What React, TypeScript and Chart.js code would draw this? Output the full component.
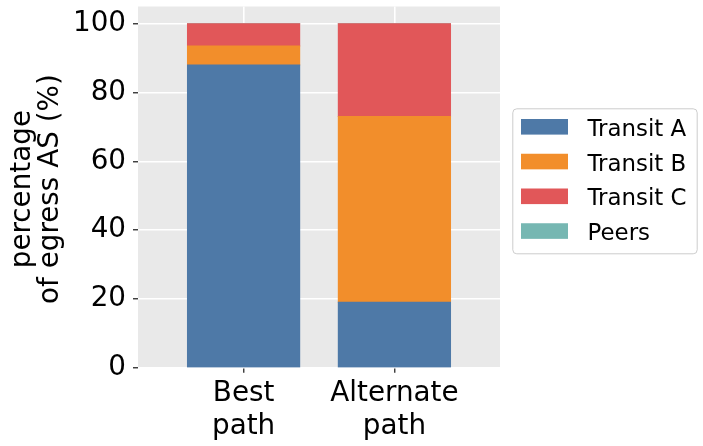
import React, { useEffect, useRef } from 'react';
import { Chart, registerables } from 'chart.js';

Chart.register(...registerables);

// ---- data ----
const categories: string[][] = [['Best', 'path'], ['Alternate', 'path']];
const categoryPositions = [0, 1];
const seriesNames = ['Transit A', 'Transit B', 'Transit C', 'Peers'];
const transitA = [88, 19];
const transitB = [5.5, 54];
const transitC = [6.5, 27];
const peers = [0, 0];
const yTicks = [0, 20, 40, 60, 80, 100];
const yTitle = ['percentage', 'of egress AS (%)'];

const seriesValues = [transitA, transitB, transitC, peers];
const colors = ['#4e79a7', '#f28e2b', '#e15759', '#76b7b2'];

const FAMILY = '"DejaVu Sans"';
const TICK_SIZE = 27.8;
const LEGEND_SIZE = 22.9;

const decorPlugin = {
  id: 'decor',
  beforeDraw(chart: any) {
    const { ctx, chartArea: a } = chart;
    ctx.save();
    ctx.fillStyle = '#e9e9e9';
    ctx.fillRect(a.left, a.top, a.right - a.left, a.bottom - a.top);
    ctx.restore();
  },
  afterDraw(chart: any) {
    const { ctx, chartArea: a } = chart;
    // y-axis title (two lines, rotated)
    ctx.save();
    ctx.fillStyle = '#000';
    ctx.font = `${TICK_SIZE}px ${FAMILY}`;
    ctx.textAlign = 'center';
    ctx.textBaseline = 'alphabetic';
    const cy = (a.top + a.bottom) / 2 + 2;
    ctx.translate(0, cy);
    ctx.rotate(-Math.PI / 2);
    ctx.fillText(yTitle[0], 0, 30);
    ctx.fillText(yTitle[1], 0, 58);
    ctx.restore();

    // legend
    const bx = a.right + 12.3;
    const by = 108.3;
    const bw = 184.4;
    const bh = 145;
    ctx.save();
    ctx.beginPath();
    ctx.roundRect(bx + 0.5, by + 0.5, bw, bh, 4);
    ctx.fillStyle = 'rgba(255,255,255,0.8)';
    ctx.fill();
    ctx.strokeStyle = '#cccccc';
    ctx.lineWidth = 1;
    ctx.stroke();
    ctx.font = `${LEGEND_SIZE}px ${FAMILY}`;
    ctx.textAlign = 'left';
    ctx.textBaseline = 'alphabetic';
    seriesNames.forEach((name, i) => {
      const yc = 126.8 + i * 34.75;
      ctx.fillStyle = colors[i];
      ctx.fillRect(bx + 8.7, yc - 7.8, 47, 15.6);
      ctx.fillStyle = '#000';
      ctx.fillText(name, bx + 75.2, yc + 9);
    });
    ctx.restore();
  },
};

export default function App() {
  const ref = useRef<HTMLCanvasElement | null>(null);

  useEffect(() => {
    document.body.style.margin = '0';
    const canvas = ref.current;
    if (!canvas) return;

    const datasets = seriesNames.map((name, i) => ({
      label: name,
      data: categoryPositions.map((x, j) => ({ x, y: seriesValues[i][j] })),
      backgroundColor: colors[i],
      borderWidth: 0,
      inflateAmount: 0.5,
      categoryPercentage: 1,
      barPercentage: 0.744,
    }));

    const gridCommon = {
      color: '#ffffff',
      lineWidth: 1.6,
      tickColor: '#000000',
      tickLength: 5,
      tickWidth: 1.1,
      drawTicks: true,
      offset: false,
    };

    const chart = new Chart(canvas, {
      type: 'bar',
      data: { datasets } as any,
      options: {
        responsive: false,
        animation: false,
        devicePixelRatio: 1,
        layout: { padding: { top: 6.5, right: 203, left: 0, bottom: 0 } },
        plugins: { legend: { display: false }, tooltip: { enabled: false } },
        scales: {
          x: {
            type: 'linear',
            min: -0.7,
            max: 1.7,
            offset: false,
            stacked: true,
            afterFit: (s: any) => {
              s.height = 78.3;
              s.paddingLeft = 0;
              s.paddingRight = 0;
            },
            afterBuildTicks: (s: any) => {
              s.ticks = categoryPositions.map((v) => ({ value: v }));
            },
            ticks: {
              callback: (v: any) => {
                const idx = categoryPositions.indexOf(Number(v));
                return idx >= 0 ? categories[idx] : '';
              },
              font: { family: 'DejaVu Sans', size: TICK_SIZE, lineHeight: 1.2 },
              color: '#000',
              padding: 4,
              maxRotation: 0,
              minRotation: 0,
              autoSkip: false,
            },
            grid: gridCommon,
            border: { display: false },
          },
          y: {
            type: 'linear',
            min: 0,
            max: 105,
            stacked: true,
            afterFit: (s: any) => {
              s.width = 138;
              s.paddingTop = 0;
              s.paddingBottom = 0;
            },
            afterBuildTicks: (s: any) => {
              s.ticks = yTicks.map((v) => ({ value: v }));
            },
            ticks: {
              font: { family: 'DejaVu Sans', size: TICK_SIZE },
              color: '#000',
              padding: 7,
            },
            grid: gridCommon,
            border: { display: false },
          },
        },
      } as any,
      plugins: [decorPlugin],
    });

    return () => chart.destroy();
  }, []);

  return (
    <div style={{ position: 'fixed', left: 0, top: 0, width: 703, height: 446 }}>
      <canvas ref={ref} width={703} height={446} style={{ display: 'block', width: 703, height: 446 }} />
    </div>
  );
}
